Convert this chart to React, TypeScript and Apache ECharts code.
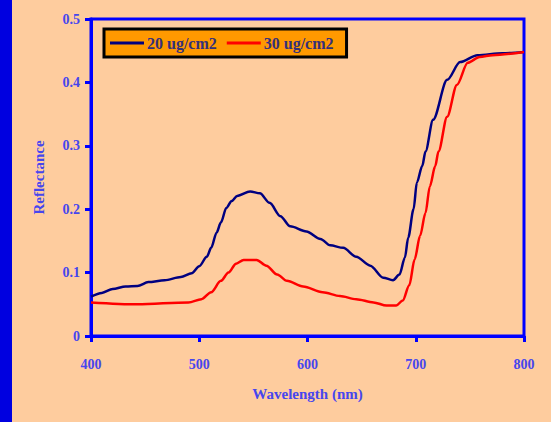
import React, { useEffect, useRef } from "react";
import * as echarts from "echarts";

const seriesNames = ["20 ug/cm2", "30 ug/cm2"];

const wl20 = [400, 410, 420, 432, 443, 453, 468, 483, 493, 500, 507, 511, 516, 520, 525, 530, 535, 547, 556, 565, 575, 584, 599, 612, 621, 633, 645, 658, 670, 679, 685, 690, 693, 698, 701, 706, 709, 716, 729, 741, 757, 780, 800];
const refl20 = [0.062, 0.068, 0.074, 0.078, 0.079, 0.085, 0.088, 0.093, 0.099, 0.110, 0.125, 0.139, 0.163, 0.179, 0.202, 0.213, 0.221, 0.228, 0.225, 0.210, 0.189, 0.173, 0.165, 0.153, 0.143, 0.139, 0.125, 0.111, 0.092, 0.088, 0.097, 0.124, 0.155, 0.200, 0.242, 0.268, 0.291, 0.341, 0.404, 0.432, 0.443, 0.446, 0.448];

const wl30 = [400, 443, 490, 502, 511, 520, 527, 534, 541, 553, 562, 572, 581, 596, 614, 630, 645, 661, 673, 682, 688, 694, 699, 704, 709, 713, 718, 721, 729, 738, 748, 759, 771, 800];
const refl30 = [0.053, 0.050, 0.053, 0.058, 0.069, 0.087, 0.100, 0.114, 0.120, 0.120, 0.111, 0.097, 0.087, 0.078, 0.069, 0.063, 0.058, 0.053, 0.048, 0.048, 0.056, 0.080, 0.121, 0.158, 0.194, 0.236, 0.268, 0.291, 0.346, 0.396, 0.431, 0.440, 0.443, 0.448];

const xTitle = "Wavelength (nm)";
const yTitle = "Reflectance";

export default function App() {
  const ref = useRef<HTMLDivElement>(null);
  useEffect(() => {
    if (!ref.current) return;
    const chart = echarts.init(ref.current, undefined, { renderer: "svg" });
    const font = "'Liberation Serif', 'Times New Roman', serif";
    const labelColor = "#4646ee";
    chart.setOption({
      animation: false,
      backgroundColor: "#FECC9E",
      graphic: [
        { type: "rect", shape: { x: 0, y: 0, width: 12, height: 422 }, style: { fill: "#0000E0" } },
      ],
      grid: {
        left: 91,
        right: 27,
        top: 19,
        bottom: 86,
        show: true,
        borderColor: "#0000FF",
        borderWidth: 3,
        backgroundColor: "transparent",
      },
      legend: {
        left: 104,
        top: 29,
        orient: "horizontal",
        backgroundColor: "#FF9900",
        borderColor: "#000000",
        borderWidth: 3,
        padding: [6, 13, 6, 6],
        itemGap: 10,
        itemWidth: 34,
        itemHeight: 3,
        icon: "rect",
        textStyle: { fontFamily: font, fontSize: 16, fontWeight: "bold", color: "#35307a", padding: [0, 0, 0, -2] },
        data: seriesNames,
      },
      xAxis: {
        type: "value",
        min: 400,
        max: 800,
        interval: 100,
        name: xTitle,
        nameLocation: "middle",
        nameGap: 50,
        nameTextStyle: { fontFamily: font, fontSize: 15, fontWeight: "bold", color: labelColor },
        axisLine: { show: true, lineStyle: { color: "#0000FF", width: 3 } },
        axisTick: { show: true, length: 6, lineStyle: { color: "#0000FF", width: 3 } },
        axisLabel: { margin: 21, fontFamily: font, fontSize: 14, fontWeight: "bold", color: labelColor },
        splitLine: { show: false },
      },
      yAxis: {
        type: "value",
        min: 0,
        max: 0.5,
        interval: 0.1,
        name: yTitle,
        nameLocation: "middle",
        nameGap: 45,
        nameTextStyle: { fontFamily: font, fontSize: 15, fontWeight: "bold", color: labelColor },
        axisLine: { show: true, lineStyle: { color: "#0000FF", width: 3 } },
        axisTick: { show: true, length: 6, lineStyle: { color: "#0000FF", width: 3 } },
        axisLabel: { margin: 11, fontFamily: font, fontSize: 14, fontWeight: "bold", color: labelColor },
        splitLine: { show: false },
      },
      series: [
        {
          name: seriesNames[0],
          type: "line",
          data: wl20.map((w, i) => [w, refl20[i]]),
          showSymbol: false,
          smooth: 0.3,
          smoothMonotone: "x",
          lineStyle: { color: "#000080", width: 2.5 },
          itemStyle: { color: "#000080" },
        },
        {
          name: seriesNames[1],
          type: "line",
          data: wl30.map((w, i) => [w, refl30[i]]),
          showSymbol: false,
          smooth: 0.3,
          smoothMonotone: "x",
          lineStyle: { color: "#FF0000", width: 2.5 },
          itemStyle: { color: "#FF0000" },
        },
      ],
    });
    return () => chart.dispose();
  }, []);
  return <div ref={ref} style={{ position: "absolute", left: 0, top: 0, width: 551, height: 422 }} />;
}
